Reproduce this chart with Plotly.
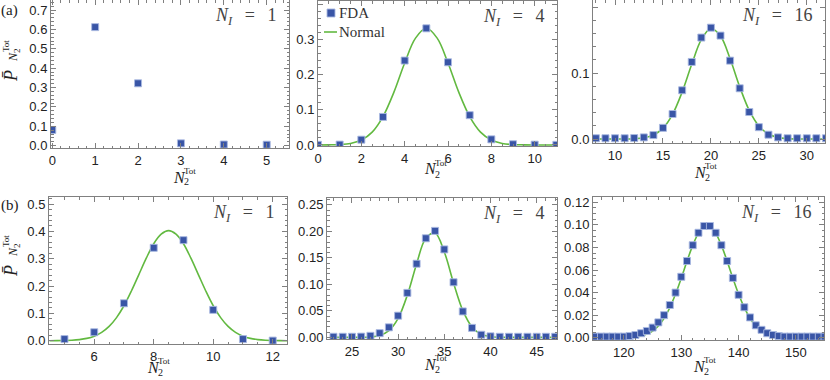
import plotly.graph_objects as go

W, H = 830, 380

# ---- data ----
# row (a)
a1_x = [0, 1, 2, 3, 4, 5]
a1_fda = [0.081, 0.612, 0.322, 0.012, 0.006, 0.005]

a2_x = [0, 1, 2, 3, 4, 5, 6, 7, 8, 9, 10, 11]
a2_fda = [0.0005, 0.001, 0.015, 0.080, 0.241, 0.333, 0.236, 0.085, 0.016, 0.002, 0.0008, 0.0003]
a2_norm_x = [0, 0.5, 1, 1.5, 2, 2.5, 3, 3.5, 4, 4.5, 5, 5.5, 6, 6.5, 7, 7.5, 8, 8.5, 9, 9.5, 10, 10.5, 11]
a2_norm_y = [0.0, 0.0003, 0.0012, 0.0044, 0.0139, 0.0367, 0.081, 0.150, 0.234, 0.305, 0.333, 0.305,
             0.234, 0.150, 0.081, 0.0367, 0.0139, 0.0044, 0.0012, 0.0003, 0.0, 0.0, 0.0]

a3_x = list(range(8, 33))
a3_fda = [0.0012, 0.0012, 0.0012, 0.0012, 0.0015, 0.0025, 0.006, 0.017, 0.038, 0.074, 0.117, 0.154, 0.169,
          0.157, 0.119, 0.077, 0.041, 0.018, 0.0066, 0.0025, 0.0012, 0.0012, 0.0012, 0.0012, 0.0012]
a3_norm_x = list(range(8, 33))
a3_norm_y = [0.0, 0.0, 0.0, 0.0001, 0.0005, 0.0019, 0.0061, 0.0166, 0.0376, 0.0714, 0.1134, 0.1508, 0.1678,
             0.1563, 0.1218, 0.0794, 0.0434, 0.0198, 0.0076, 0.0024, 0.0006, 0.0001, 0.0, 0.0, 0.0]

# row (b)
b1_x = [5, 6, 7, 8, 9, 10, 11, 12]
b1_fda = [0.006, 0.031, 0.137, 0.340, 0.368, 0.113, 0.006, 0.0005]
b1_norm_x = [4.5, 4.75, 5, 5.25, 5.5, 5.75, 6, 6.25, 6.5, 6.75, 7, 7.25, 7.5, 7.75, 8, 8.25, 8.5,
             8.75, 9, 9.25, 9.5, 9.75, 10, 10.25, 10.5, 10.75, 11, 11.25, 11.5, 11.75, 12, 12.25, 12.5]
b1_norm_y = [0.0001, 0.0003, 0.0008, 0.0018, 0.0041, 0.0085, 0.0166, 0.0305, 0.0523, 0.0845, 0.128, 0.182,
             0.242, 0.302, 0.355, 0.390, 0.403, 0.390, 0.355, 0.302, 0.242, 0.182, 0.128, 0.0845, 0.0523,
             0.0305, 0.0166, 0.0085, 0.0041, 0.0018, 0.0008, 0.0003, 0.0001]

b2_x = list(range(23, 48))
b2_fda = [0.0012, 0.0012, 0.0012, 0.0015, 0.003, 0.008, 0.019, 0.041, 0.084, 0.139, 0.187, 0.201, 0.166,
          0.104, 0.049, 0.018, 0.005, 0.002, 0.0012, 0.0012, 0.0012, 0.0012, 0.0012, 0.0012, 0.0012]
b2_norm_x = list(range(23, 48))
b2_norm_y = [0.0, 0.0, 0.0, 0.0001, 0.0007, 0.0034, 0.0126, 0.0359, 0.080, 0.1387, 0.1872, 0.1968, 0.1611,
             0.1027, 0.051, 0.0197, 0.006, 0.0014, 0.0003, 0.0, 0.0, 0.0, 0.0, 0.0, 0.0]

b3_x = list(range(115, 156))
b3_fda = [0.001, 0.001, 0.001, 0.001, 0.001, 0.001, 0.0015, 0.0024, 0.004, 0.006, 0.009, 0.0136, 0.020,
          0.029, 0.040, 0.054, 0.068, 0.082, 0.093, 0.099, 0.099, 0.093, 0.082, 0.068, 0.053, 0.038, 0.027,
          0.018, 0.011, 0.007, 0.004, 0.0024, 0.0015, 0.001, 0.001, 0.001, 0.001, 0.001, 0.001, 0.001, 0.001]
b3_norm_x = list(range(115, 156))
b3_norm_y = [0.0, 0.0, 0.0, 0.0, 0.00005, 0.00014, 0.00033, 0.00075, 0.0016, 0.0032, 0.0059, 0.0104, 0.0172,
             0.0266, 0.0387, 0.0528, 0.0679, 0.0818, 0.0927, 0.0987, 0.0987, 0.0927, 0.0818, 0.0679, 0.0528,
             0.0387, 0.0266, 0.0172, 0.0104, 0.0059, 0.0032, 0.0016, 0.00075, 0.00033, 0.00014, 0.00005,
             0.0, 0.0, 0.0, 0.0, 0.0]

NI_labels = ["1", "4", "16", "1", "4", "16"]

BLUE = "#3955a6"
HALO = "rgba(170,185,225,0.9)"
GREEN = "#62b940"
FRAME = "#808080"
SERIF = "Liberation Serif"
SANS = "Liberation Sans"

# panel boxes in pixels: x0, x1, ytop, ybottom
boxes = [
    (51, 289, 0, 148), (318, 557, 1, 146), (593, 825, 0, 143),
    (49, 287, 197, 344), (327, 557, 198, 339), (593, 824, 197, 340),
]
xranges = [[-0.03, 5.52], [0, 11.03], [7.7, 31.9], [4.48, 12.48], [22.3, 47.2], [114.6, 154.9]]
yranges = [[-0.012, 0.752], [-0.003, 0.411], [-0.006, 0.211], [-0.012, 0.526], [-0.003, 0.263], [-0.002, 0.1247]]
xticks = [(1, 0.2), (2, 0.5), (5, 1), (2, 0.5), (5, 1), (10, 2)]
yticks = [(0.1, 0.02, ".1f"), (0.1, 0.02, ".1f"), (0.1, 0.02, ".1f"),
          (0.1, 0.02, ".1f"), (0.05, 0.01, ".2f"), (0.02, 0.005, ".2f")]
# left edge and vertical centre of each x-axis title, pixels
xtitle_pos = [(172, 177), (423, 169), (693, 172), (146, 367), (423, 364), (692, 366)]

panels = [
    (a1_x, a1_fda, None, None),
    (a2_x, a2_fda, a2_norm_x, a2_norm_y),
    (a3_x, a3_fda, a3_norm_x, a3_norm_y),
    (b1_x, b1_fda, b1_norm_x, b1_norm_y),
    (b2_x, b2_fda, b2_norm_x, b2_norm_y),
    (b3_x, b3_fda, b3_norm_x, b3_norm_y),
]


def px(x):
    return x / W


def py(y):
    return 1 - y / H


def note(x, y, text, size, color="#222", xanchor="left", angle=0):
    return dict(xref="paper", yref="paper", x=px(x), y=py(y), xanchor=xanchor, yanchor="middle",
                showarrow=False, text=text, textangle=angle, borderpad=0,
                font=dict(family=SERIF, size=size, color=color))


fig = go.Figure()
annotations = []

for i, (xs, fda, nx, ny) in enumerate(panels):
    n = "" if i == 0 else str(i + 1)
    if nx is not None:
        fig.add_trace(go.Scatter(x=nx, y=ny, mode="lines", line=dict(color=GREEN, width=1.6, shape="spline"),
                                 name="Normal", xaxis="x" + n, yaxis="y" + n, hoverinfo="skip"))
    fig.add_trace(go.Scatter(x=xs, y=fda, mode="markers", name="FDA",
                             marker=dict(symbol="square", size=7, color=BLUE, line=dict(color=HALO, width=1)),
                             xaxis="x" + n, yaxis="y" + n))

    x0, x1, y0, y1 = boxes[i]
    common = dict(ticks="inside", ticklen=5, tickwidth=1, tickcolor=FRAME, showline=True, linecolor=FRAME,
                  linewidth=1, mirror="allticks", showgrid=False, zeroline=False, tick0=0, automargin=False,
                  tickfont=dict(family=SANS, size=13, color="#222"))
    fig.layout["xaxis" + n] = dict(domain=[px(x0), px(x1)], range=xranges[i], anchor="y" + n,
                                   dtick=xticks[i][0],
                                   minor=dict(dtick=xticks[i][1], tick0=0, ticks="inside", ticklen=2.5,
                                              tickcolor=FRAME),
                                   **common)
    fig.layout["yaxis" + n] = dict(domain=[py(y1), py(y0)], range=yranges[i], anchor="x" + n,
                                   dtick=yticks[i][0], tickformat=yticks[i][2],
                                   minor=dict(dtick=yticks[i][1], tick0=0, ticks="inside", ticklen=2.5,
                                              tickcolor=FRAME),
                                   **common)

    # N_I label, top right inside the frame
    annotations.append(note(x1 - 11, y0 + 16, "<i>N<sub>I</sub></i>\u2002\u2009=\u2002\u2009" + NI_labels[i],
                            18, color="#444", xanchor="right"))

    # x-axis title  N_2^Tot
    tx, ty = xtitle_pos[i]
    annotations.append(note(tx, ty, "<i>N</i>", 16))
    annotations.append(note(tx + 11, ty + 5, "2", 10))
    annotations.append(note(tx + 11, ty - 6, "Tot", 9))


def ytitle(cx, cy):
    annotations.append(note(cx, cy, "<i>P̄</i>", 18, xanchor="center", angle=-90))
    annotations.append(note(cx + 2, cy - 19, "<i>N</i>", 12, xanchor="center", angle=-90))
    annotations.append(note(cx + 6, cy - 25, "2", 9, xanchor="center", angle=-90))
    annotations.append(note(cx - 5, cy - 30, "Tot", 9, xanchor="center", angle=-90))


ytitle(11, 76)
ytitle(11, 271)

annotations.append(note(0, 11, "(a)", 15))
annotations.append(note(0, 205, "(b)", 15))

# legend of the N_I = 4 panel
annotations.append(note(338, 13, "FDA", 15, color="#333"))
annotations.append(note(338, 32, "Normal", 15, color="#333"))
shapes = [
    dict(type="rect", xref="paper", yref="paper", x0=px(327), x1=px(335), y0=py(17), y1=py(9),
         fillcolor=BLUE, line=dict(color=HALO, width=1)),
    dict(type="line", xref="paper", yref="paper", x0=px(324), x1=px(337), y0=py(32), y1=py(32),
         line=dict(color=GREEN, width=1.6)),
]

fig.update_layout(
    width=W, height=H, margin=dict(l=0, r=0, t=0, b=0),
    paper_bgcolor="white", plot_bgcolor="white",
    annotations=annotations, shapes=shapes,
    showlegend=False,
)

# the page's default 8px body margin would push the figure off the window
fig.write_html("out.html", config={"displayModeBar": False},
               post_script="document.body.style.margin = '0';")
